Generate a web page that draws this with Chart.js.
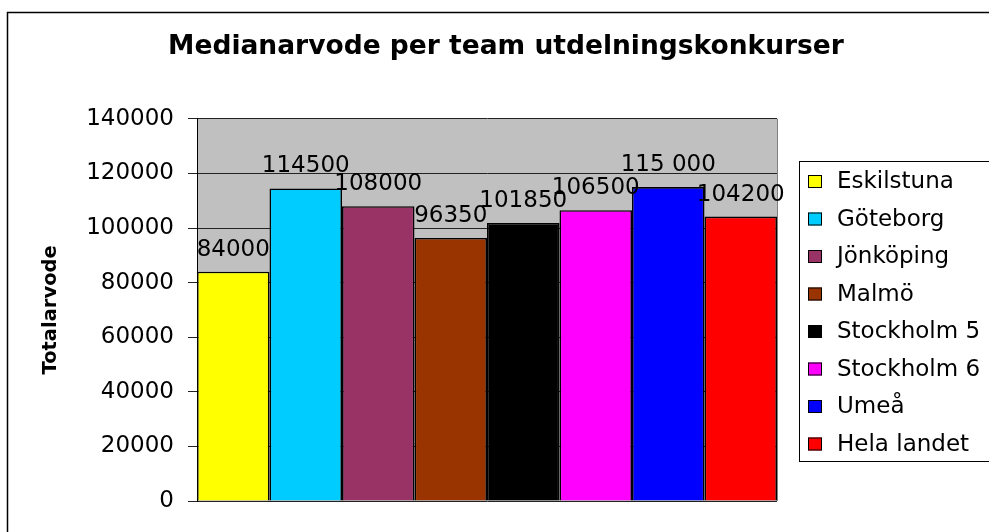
<!DOCTYPE html>
<html lang="sv">
  <head>
    <meta charset="UTF-8" />
    <title>Medianarvode per team utdelningskonkurser</title>
    <script src="https://cdn.jsdelivr.net/npm/chart.js"></script>
    <style>
      html, body { margin: 0; padding: 0; background: #fff; }
      #ruta { width: 989px; height: 532px; }
    </style>
  </head>
  <body>
    <div id="ruta"><canvas id="grafico" width="989" height="532"></canvas></div>

    <script>
      // Data
      var team = ["Eskilstuna", "Göteborg", "Jönköping", "Malmö", "Stockholm 5", "Stockholm 6", "Umeå", "Hela landet"];
      var arvoden = [84000, 114500, 108000, 96350, 101850, 106500, 115000, 104200];
      var etiketter = ["84000", "114500", "108000", "96350", "101850", "106500", "115 000", "104200"];
      var farger = ["#ffff00", "#00ccff", "#993366", "#993300", "#000000", "#ff00ff", "#0000ff", "#ff0000"];
      var yTicks = [0, 20000, 40000, 60000, 80000, 100000, 120000, 140000];

      var typsnitt = "DejaVu Sans";

      // grå bakgrund i diagramytan + ram runt hela diagrammet
      var bakgrund = {
        id: "bakgrund",
        beforeDraw: function (chart) {
          var ctx = chart.ctx;
          var a = chart.chartArea;
          ctx.save();
          ctx.fillStyle = "#c0c0c0";
          ctx.fillRect(a.left, a.top, a.right - a.left, a.bottom - a.top);
          // högerkant på diagramytan
          ctx.strokeStyle = "#808080";
          ctx.lineWidth = 1;
          ctx.beginPath();
          ctx.moveTo(Math.round(a.right) + 0.5, a.top);
          ctx.lineTo(Math.round(a.right) + 0.5, a.bottom);
          ctx.stroke();
          ctx.strokeStyle = "#000";
          ctx.lineWidth = 1.5;
          ctx.strokeRect(7.5, 12.5, 1100, 700);
          ctx.restore();
        },
      };

      // värdena ovanför staplarna
      var varden = {
        id: "varden",
        afterDatasetsDraw: function (chart) {
          var ctx = chart.ctx;
          ctx.save();
          ctx.font = "23px '" + typsnitt + "'";
          ctx.fillStyle = "#000";
          ctx.textAlign = "center";
          ctx.textBaseline = "alphabetic";
          chart.data.datasets.forEach(function (ds, i) {
            var stapel = chart.getDatasetMeta(i).data[0];
            ctx.fillText(etiketter[i], stapel.x, stapel.y - 16);
          });
          ctx.restore();
        },
      };

      // förklaring till höger, i Excel-stil
      var forklaring = {
        id: "forklaring",
        afterDraw: function (chart) {
          var ctx = chart.ctx;
          ctx.save();
          ctx.strokeStyle = "#000";
          ctx.lineWidth = 1;
          ctx.strokeRect(799.5, 161.5, 400, 300);
          ctx.font = "23px '" + typsnitt + "'";
          ctx.textBaseline = "middle";
          ctx.textAlign = "left";
          chart.data.datasets.forEach(function (ds, i) {
            var y = 181.5 + i * 37.5;
            ctx.fillStyle = ds.backgroundColor;
            ctx.fillRect(808, y - 6.5, 14, 13);
            ctx.strokeRect(808.5, y - 6, 13, 12);
            ctx.fillStyle = "#000";
            ctx.fillText(ds.label, 837, y + 1);
          });
          ctx.restore();
        },
      };

      var grafico = new Chart(document.getElementById("grafico"), {
        type: "bar",
        data: {
          labels: [""],
          datasets: team.map(function (namn, i) {
            return {
              label: namn,
              data: [arvoden[i]],
              backgroundColor: farger[i],
              borderColor: "#000",
              borderWidth: 1.6,
              borderSkipped: "bottom",
              inflateAmount: 0,
            };
          }),
        },
        options: {
          responsive: false,
          animation: false,
          layout: { padding: { left: 23, right: 0, top: 0, bottom: 31 } },
          datasets: { bar: { categoryPercentage: 1, barPercentage: 1 } },
          plugins: {
            legend: { display: false },
            tooltip: { enabled: false },
            title: {
              display: true,
              text: "Medianarvode per team utdelningskonkurser",
              color: "#000",
              font: { family: typsnitt, size: 26.5, weight: "bold", lineHeight: 1.2 },
              padding: { top: 31, bottom: 56 },
            },
          },
          scales: {
            x: { display: false, grid: { display: false } },
            y: {
              min: 0,
              max: 140000,
              afterBuildTicks: function (skala) {
                skala.ticks = yTicks.map(function (v) { return { value: v }; });
              },
              afterFit: function (skala) { skala.width = 174; },
              ticks: {
                color: "#000",
                padding: 14,
                font: { family: typsnitt, size: 23 },
                callback: function (v) { return String(v); },
              },
              grid: { color: "#222", lineWidth: 1, tickLength: 9, drawTicks: true },
              border: { display: true, color: "#000", width: 1 },
              title: {
                display: true,
                text: "Totalarvode",
                color: "#000",
                font: { family: typsnitt, size: 19.5, weight: "bold" },
                padding: { top: 16, bottom: 0 },
              },
            },
            // tom axel som bara reserverar plats för förklaringen
            hoger: {
              position: "right",
              display: true,
              grid: { display: false, drawOnChartArea: false, drawTicks: false },
              ticks: { display: false },
              border: { display: false },
              afterFit: function (skala) { skala.width = 212; },
            },
          },
        },
        plugins: [bakgrund, varden, forklaring],
      });
    </script>
  </body>
</html>
